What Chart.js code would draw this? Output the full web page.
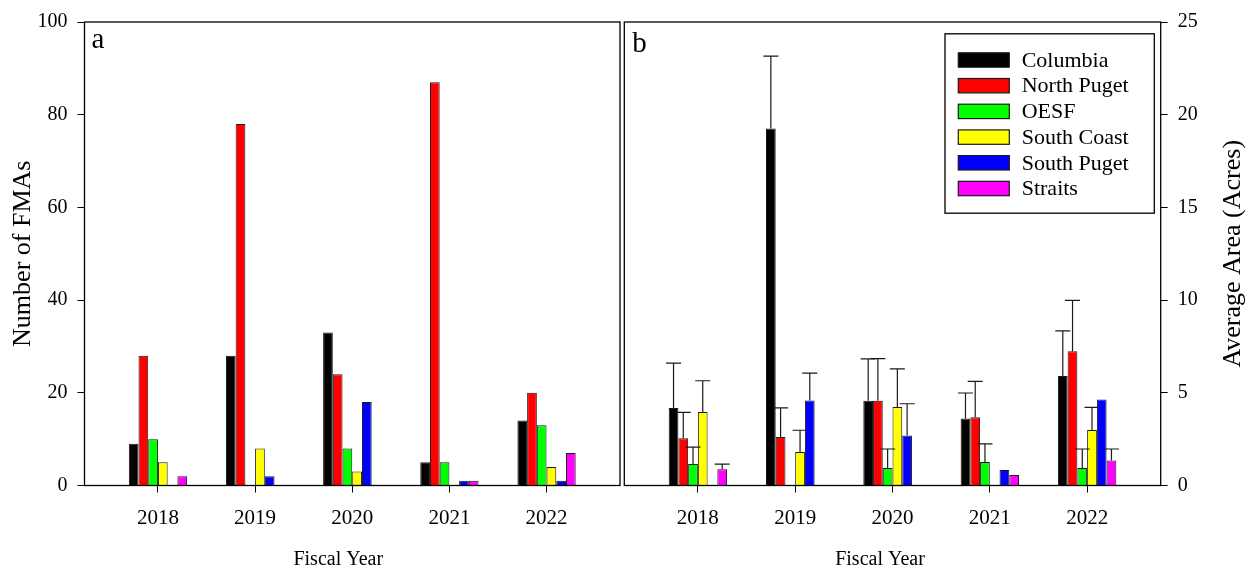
<!DOCTYPE html>
<html>
<head>
<meta charset="utf-8">
<script src="https://cdn.jsdelivr.net/npm/chart.js@4.4.1/dist/chart.umd.min.js"></script>
<style>
    body { margin: 0; background: #fff; }
    #wrap { position: relative; width: 1252px; height: 571px; }
    canvas { position: absolute; top: 0; }
    #countChart { left: 0; }
    #areaChart { left: 622px; }
</style>
</head>
<body>
<div id="wrap">
    <canvas id="countChart" width="622" height="571"></canvas>
    <canvas id="areaChart" width="630" height="571"></canvas>
</div>
<script>
// Kategorien und Serien
const years = [2018, 2019, 2020, 2021, 2022];
const regions = ['Columbia', 'North Puget', 'OESF', 'South Coast', 'South Puget', 'Straits'];
const regionColors = ['#000000', '#ff0000', '#00ff00', '#ffff00', '#0000ff', '#ff00ff'];

// Panel a: Anzahl FMAs
const columbiaCount   = [9, 28, 33, 5, 14];
const northPugetCount = [28, 78, 24, 87, 20];
const oesfCount       = [10, null, 8, 5, 13];
const southCoastCount = [5, 8, 3, null, 4];
const southPugetCount = [null, 2, 18, 1, 1];
const straitsCount    = [2, null, null, 1, 7];

// Panel b: mittlere Fläche (Acres) und Fehlerbalken (+)
const columbiaArea   = [4.18, 19.26, 4.57, 3.61, 5.9];
const northPugetArea = [2.55, 2.61, 4.57, 3.68, 7.24];
const oesfArea       = [1.16, null, 0.95, 1.27, 0.95];
const southCoastArea = [3.96, 1.81, 4.23, null, 3.0];
const southPugetArea = [null, 4.58, 2.70, 0.83, 4.64];
const straitsArea    = [0.87, null, null, 0.56, 1.35];

const columbiaErr   = [2.42, 3.9, 2.26, 1.38, 2.44];
const northPugetErr = [1.39, 1.58, 2.27, 1.94, 2.74];
const oesfErr       = [0.91, null, 1.02, 0.98, 1.02];
const southCoastErr = [1.69, 1.17, 2.06, null, 1.21];
const southPugetErr = [null, 1.48, 1.71, null, null];
const straitsErr    = [0.28, null, null, null, 0.62];

// Achsenbeschriftungen
const countTicks = [0, 20, 40, 60, 80, 100];
const areaTicks = [0, 5, 10, 15, 20, 25];

const SERIF = "'Liberation Serif', 'Times New Roman', serif";

// Datensätze bauen
function makeDatasets(values, errors) {
    return regions.map((name, k) => ({
        label: name,
        data: years.map((yr, i) => ({ x: yr, y: values[k][i] })),
        errors: errors ? errors[k] : null,
        backgroundColor: regionColors[k],
        borderColor: '#1a1a1a',
        borderWidth: 1,
        categoryPercentage: 0.6,
        barPercentage: 1.0
    }));
}

function tickGrid() {
    return { display: true, offset: false, drawOnChartArea: false, drawTicks: true, tickLength: 7, color: '#000', lineWidth: 1 };
}

function yearAxis() {
    return {
        type: 'linear',
        offset: false,
        min: years[0] - 0.756,
        max: years[years.length - 1] + 0.756,
        afterBuildTicks: s => { s.ticks = years.map(v => ({ value: v })); },
        afterFit: s => { s.height = 85.5; },
        grid: tickGrid(),
        border: { display: false },
        ticks: {
            padding: 13, color: '#000', autoSkip: false, maxRotation: 0,
            font: { family: SERIF, size: 21 },
            callback: v => String(v)
        }
    };
}

function valueAxis(tickList, position, width) {
    return {
        position: position,
        min: tickList[0],
        max: tickList[tickList.length - 1],
        afterBuildTicks: s => { s.ticks = tickList.map(v => ({ value: v })); },
        afterFit: s => { s.width = width; },
        grid: tickGrid(),
        border: { display: false },
        ticks: { padding: 10, color: '#000', font: { family: SERIF, size: 20 } }
    };
}

// Rahmen um den Plotbereich
const framePlugin = {
    id: 'frame',
    afterDraw(chart) {
        const { ctx, chartArea: a } = chart;
        ctx.save();
        ctx.strokeStyle = '#000';
        ctx.lineWidth = 1.3;
        ctx.strokeRect(a.left, a.top, a.right - a.left, a.bottom - a.top);
        ctx.restore();
    }
};

// Fehlerbalken nach oben
const errorBarPlugin = {
    id: 'errorBars',
    afterDatasetsDraw(chart) {
        const { ctx } = chart;
        const yScale = chart.scales.y;
        ctx.save();
        ctx.strokeStyle = '#1a1a1a';
        ctx.lineWidth = 1.2;
        chart.data.datasets.forEach((ds, k) => {
            if (!ds.errors) return;
            const meta = chart.getDatasetMeta(k);
            ds.data.forEach((pt, i) => {
                const err = ds.errors[i];
                if (pt.y == null || err == null) return;
                const bar = meta.data[i];
                const top = yScale.getPixelForValue(pt.y + err);
                ctx.beginPath();
                ctx.moveTo(bar.x, bar.y);
                ctx.lineTo(bar.x, top);
                ctx.moveTo(bar.x - 7.5, top);
                ctx.lineTo(bar.x + 7.5, top);
                ctx.stroke();
            });
        });
        ctx.restore();
    }
};

// Achsentitel und Panelbuchstabe
function labelsPlugin(opts) {
    return {
        id: 'labels',
        afterDraw(chart) {
            const { ctx, chartArea: a } = chart;
            const midX = (a.left + a.right) / 2;
            const midY = (a.top + a.bottom) / 2;
            ctx.save();
            ctx.fillStyle = '#000';
            ctx.textAlign = 'center';
            ctx.textBaseline = 'middle';
            ctx.font = `20px ${SERIF}`;
            ctx.fillText(opts.xTitle, midX + opts.xShift, opts.xTitleY);

            ctx.font = `26px ${SERIF}`;
            ctx.translate(opts.yTitleX(a), midY);
            ctx.rotate(-Math.PI / 2);
            ctx.fillText(opts.yTitle, 0, 0);
            ctx.restore();

            ctx.save();
            ctx.fillStyle = '#000';
            ctx.font = `29px ${SERIF}`;
            ctx.textAlign = 'left';
            ctx.textBaseline = 'alphabetic';
            ctx.fillText(opts.letter, a.left + opts.letterDx, a.top + opts.letterDy);
            ctx.restore();
        }
    };
}

// Legende oben rechts im Panel b
const legendPlugin = {
    id: 'boxLegend',
    afterDraw(chart) {
        const { ctx, chartArea: a } = chart;
        const left = a.right - 215.7;
        const top = a.top + 11.8;
        ctx.save();
        ctx.fillStyle = '#fff';
        ctx.fillRect(left, top, 209.3, 179.4);
        ctx.strokeStyle = '#000';
        ctx.lineWidth = 1.3;
        ctx.strokeRect(left, top, 209.3, 179.4);
        ctx.font = `22px ${SERIF}`;
        ctx.textBaseline = 'middle';
        ctx.textAlign = 'left';
        chart.data.datasets.forEach((ds, k) => {
            const cy = top + 26.2 + k * 25.7;
            ctx.fillStyle = ds.backgroundColor;
            ctx.fillRect(left + 13.3, cy - 7.2, 51, 14.4);
            ctx.strokeStyle = '#1a1a1a';
            ctx.lineWidth = 1.2;
            ctx.strokeRect(left + 13.3, cy - 7.2, 51, 14.4);
            ctx.fillStyle = '#000';
            ctx.fillText(ds.label, left + 76.7, cy + 1);
        });
        ctx.restore();
    }
};

const baseOptions = {
    responsive: false,
    animation: false,
    devicePixelRatio: 1,
    plugins: { legend: { display: false }, tooltip: { enabled: false } }
};

// Panel a
new Chart(document.getElementById('countChart'), {
    type: 'bar',
    data: {
        datasets: makeDatasets(
            [columbiaCount, northPugetCount, oesfCount, southCoastCount, southPugetCount, straitsCount],
            null)
    },
    options: {
        ...baseOptions,
        layout: { padding: { top: 17.5, right: 2, left: 0, bottom: 0 } },
        scales: {
            x: yearAxis(),
            y: valueAxis(countTicks, 'left', 84.5)
        }
    },
    plugins: [framePlugin, labelsPlugin({
        xTitle: 'Fiscal Year', xShift: -14, xTitleY: 560,
        yTitle: 'Number of FMAs', yTitleX: a => 23,
        letter: 'a', letterDx: 7, letterDy: 25.8
    })]
});

// Panel b
new Chart(document.getElementById('areaChart'), {
    type: 'bar',
    data: {
        datasets: makeDatasets(
            [columbiaArea, northPugetArea, oesfArea, southCoastArea, southPugetArea, straitsArea],
            [columbiaErr, northPugetErr, oesfErr, southCoastErr, southPugetErr, straitsErr])
    },
    options: {
        ...baseOptions,
        layout: { padding: { top: 17.5, right: 0, left: 2.3, bottom: 0 } },
        scales: {
            x: yearAxis(),
            y: valueAxis(areaTicks, 'right', 91.3)
        }
    },
    plugins: [errorBarPlugin, framePlugin, legendPlugin, labelsPlugin({
        xTitle: 'Fiscal Year', xShift: -12.5, xTitleY: 560,
        yTitle: 'Average Area (Acres)', yTitleX: a => a.right + 72.3,
        letter: 'b', letterDx: 8, letterDy: 30
    })]
});
</script>
</body>
</html>
